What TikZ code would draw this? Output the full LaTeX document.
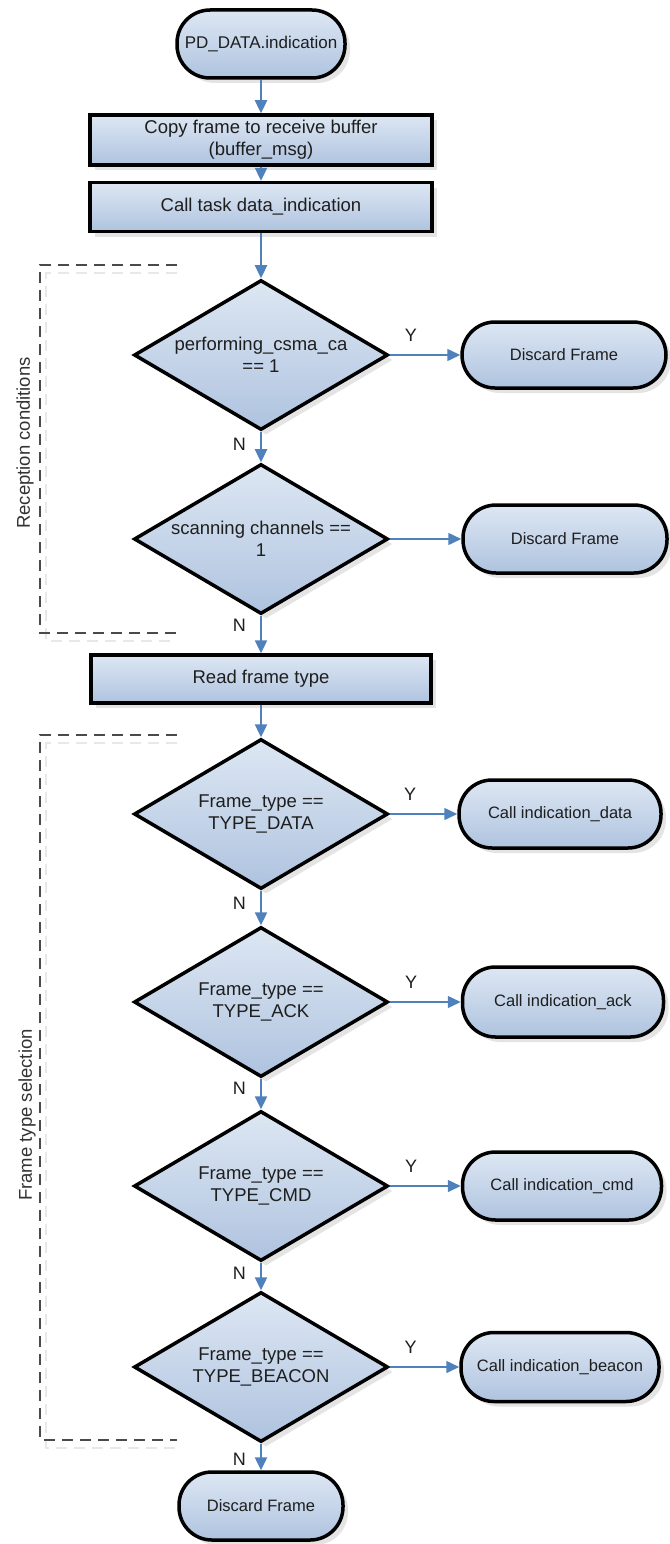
\documentclass[tikz,border=0pt]{standalone}
\usepackage{fontspec}
\setmainfont{Liberation Sans}
\usetikzlibrary{shapes.geometric,arrows.meta,shadows,calc}
\definecolor{fillA}{HTML}{DDE7F3}
\definecolor{fillB}{HTML}{AFC3DF}
\definecolor{arrowblue}{HTML}{4F81BD}
\definecolor{dashgray}{HTML}{4A4A4A}
\definecolor{txt}{HTML}{1E1E1E}
\begin{document}
\begin{tikzpicture}[x=1pt,y=1pt,
  base/.style={draw=black, line width=3.5pt, top color=fillA, bottom color=fillB,
    text=txt, align=center, inner sep=0pt,
    drop shadow={shadow xshift=5pt,shadow yshift=-5pt,fill=black!30,opacity=0.35},
    font=\fontsize{18.5}{22}\selectfont},
  proc/.style={base, rectangle, minimum width=342pt, minimum height=49pt},
  term/.style={base, rectangle, rounded corners=33pt, minimum height=68pt,
    font=\fontsize{16.5}{20}\selectfont},
  dec/.style={base, diamond, minimum width=254pt, minimum height=150pt, aspect=1.7},
  flow/.style={draw=arrowblue, line width=2.4pt, -{Triangle[length=13pt,width=12pt]}},
  side/.style={flow, line width=1.5pt},
  lab/.style={text=txt, inner sep=0pt, font=\fontsize{18}{20}\selectfont},
  bracket/.style={draw=dashgray, line width=2.2pt, dash pattern=on 11pt off 7pt},
  bracketshadow/.style={draw=black!9, line width=1.2pt, dash pattern=on 11pt off 7pt},
  sidelab/.style={text=black!80, inner sep=0pt, rotate=90, font=\fontsize{18.5}{22}\selectfont}
]
\useasboundingbox (0,0) rectangle (669,-1544);
\fill[white] (0,0) rectangle (669,-1544);

% main column
\node[term, minimum width=168pt, font=\fontsize{17}{20}\selectfont] (start) at (261,-44) {PD\_DATA.indication};
\node[proc, minimum height=50pt] (copy) at (261,-140) {Copy frame to receive buffer\\(buffer\_msg)};
\node[proc] (call) at (261,-207) {Call task data\_indication};
\node[dec] (d1) at (261,-355) {performing\_csma\_ca\\== 1};
\node[term, minimum width=204pt, minimum height=66pt] (disc1) at (564,-355) {Discard Frame};
\node[dec] (d2) at (261,-539) {scanning channels ==\\1};
\node[term, minimum width=204pt] (disc2) at (565,-539) {Discard Frame};
\node[proc, minimum width=340pt, minimum height=48pt] (read) at (261,-679) {Read frame type};
\node[dec] (d3) at (261,-814) {Frame\_type ==\\TYPE\_DATA};
\node[term, minimum width=202pt] (cdata) at (560,-814) {Call indication\_data};
\node[dec] (d4) at (261,-1002) {Frame\_type ==\\TYPE\_ACK};
\node[term, minimum width=201pt, minimum height=70pt] (cack) at (563,-1002) {Call indication\_ack};
\node[dec] (d5) at (261,-1186) {Frame\_type ==\\TYPE\_CMD};
\node[term, minimum width=199pt] (ccmd) at (562,-1186) {Call indication\_cmd};
\node[dec] (d6) at (261,-1367) {Frame\_type ==\\TYPE\_BEACON};
\node[term, minimum width=198pt, minimum height=69pt] (cbeacon) at (560,-1367) {Call indication\_beacon};
\node[term, minimum width=164pt] (endd) at (261,-1506) {Discard Frame};

% connectors
\draw[flow] (start) -- (copy);
\draw[flow] (copy) -- (call);
\draw[flow] (call) -- (d1);
\draw[side] (d1) -- node[lab, above=13pt, pos=0.3] {Y} (disc1);
\draw[flow] (d1) -- node[lab, left=14pt, pos=0.4] {N} (d2);
\draw[side] (d2) -- (disc2);
\draw[flow] (d2) -- node[lab, left=14pt, pos=0.25] {N} (read);
\draw[flow] (read) -- (d3);
\draw[side] (d3) -- node[lab, above=13pt, pos=0.3] {Y} (cdata);
\draw[flow] (d3) -- node[lab, left=14pt, pos=0.36] {N} (d4);
\draw[side] (d4) -- node[lab, above=13pt, pos=0.3] {Y} (cack);
\draw[flow] (d4) -- node[lab, left=14pt, pos=0.32] {N} (d5);
\draw[side] (d5) -- node[lab, above=13pt, pos=0.3] {Y} (ccmd);
\draw[flow] (d5) -- node[lab, left=14pt, pos=0.38] {N} (d6);
\draw[side] (d6) -- node[lab, above=13pt, pos=0.3] {Y} (cbeacon);
\draw[flow] (d6) -- node[lab, left=14pt, pos=0.6] {N} (endd);

% dashed brackets
\draw[bracketshadow] (177,-273) -- (46,-273) -- (46,-641) -- (177,-641);
\draw[bracket] (177,-265) -- (40,-265) -- (40,-633) -- (177,-633);
\node[sidelab] (rc) at (25,-443) {Reception conditions};
\draw[bracketshadow] (177,-743) -- (46,-743) -- (46,-1448) -- (177,-1448);
\draw[bracket] (177,-735) -- (40,-735) -- (40,-1440) -- (177,-1440);
\node[sidelab] (fts) at (27,-1115) {Frame type selection};
\end{tikzpicture}
\end{document}
